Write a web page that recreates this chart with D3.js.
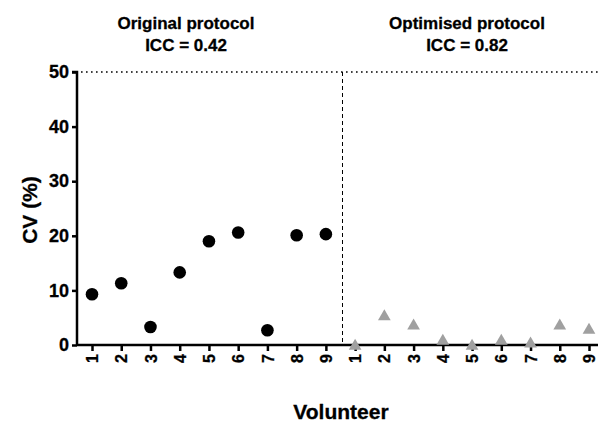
<!DOCTYPE html>
<html><head><meta charset="utf-8">
<script src="https://cdn.jsdelivr.net/npm/d3@7"></script>
<style>body{margin:0;background:#fff}svg{display:block}text{font-family:"Liberation Sans",Arial,sans-serif;font-weight:bold}</style>
</head><body>
<script>
const volunteers = ["1","2","3","4","5","6","7","8","9"];
const originalCV = [9.3, 11.3, 3.3, 13.3, 19.0, 20.6, 2.7, 20.1, 20.3];
const optimisedCV = [0.0, 5.4, 3.7, 0.9, 0.0, 0.9, 0.4, 3.7, 2.9];
const yTicks = [0, 10, 20, 30, 40, 50];
const groupTitles = ["Original protocol", "Optimised protocol"];
const groupICC = ["ICC = 0.42", "ICC = 0.82"];

const W = 598, H = 425;
const svg = d3.select("body").append("svg").attr("width", W).attr("height", H);

const positions = d3.range(18);
const x = d3.scalePoint().domain(positions).range([92, 589]);
const y = d3.scaleLinear().domain([0, 50]).range([345, 72]);
const axisX0 = 77;

// reference dotted line at 50
svg.append("line").attr("x1", axisX0 + 4).attr("x2", W).attr("y1", y(50)).attr("y2", y(50))
  .attr("stroke", "#000").attr("stroke-width", 1.6).attr("stroke-dasharray", "1.6,3.4");

// separator dashed line
const sepX = (x(8) + x(9)) / 2 + 2;
svg.append("line").attr("x1", sepX).attr("x2", sepX).attr("y1", y(50)).attr("y2", y(0))
  .attr("stroke", "#000").attr("stroke-width", 1).attr("stroke-dasharray", "4,3");

// y axis
const yAxis = d3.axisLeft(y).tickValues(yTicks).tickSize(5).tickPadding(3);
const gy = svg.append("g").attr("transform", `translate(${axisX0},0)`).call(yAxis);
gy.select(".domain").attr("stroke-width", 2.5).attr("d", `M-5,${y(50)}H0V${y(0)}`);
gy.selectAll(".tick line").attr("stroke-width", 2.5);
gy.selectAll(".tick text").attr("font-size", 18).attr("font-weight", "bold")
  .attr("font-family", "Liberation Sans, Arial, sans-serif").attr("fill", "#000")
  .attr("stroke", "#000").attr("stroke-width", 0.3);

// x axis
const labels = volunteers.concat(volunteers);
const xAxis = d3.axisBottom(x).tickValues(positions).tickFormat(i => labels[i]).tickSize(6).tickPadding(5);
const gx = svg.append("g").attr("transform", `translate(0,${y(0)})`).call(xAxis);
gx.select(".domain").attr("stroke-width", 2.5).attr("d", `M${axisX0},0H${W}`);
gx.selectAll(".tick line").attr("stroke-width", 2.5);
gx.selectAll(".tick text").attr("font-size", 16).attr("font-weight", "bold")
  .attr("font-family", "Liberation Sans, Arial, sans-serif").attr("fill", "#000")
  .attr("stroke", "#000").attr("stroke-width", 0.3)
  .attr("text-anchor", "end").attr("dy", "0.35em").attr("y", 0)
  .attr("transform", "translate(0,9) rotate(-90)");

// points: original (black circles)
svg.append("g").selectAll("circle").data(originalCV).join("circle")
  .attr("cx", (d, i) => x(i)).attr("cy", d => y(d)).attr("r", 6.3).attr("fill", "#000");

// optimised (grey triangles)
const tri = d3.symbol().type(d3.symbolTriangle).size(70);
svg.append("g").selectAll("path").data(optimisedCV).join("path")
  .attr("d", tri).attr("transform", (d, i) => `translate(${x(i + 9)},${y(d) + 1})`).attr("fill", "#a0a0a0");

// titles
const centers = [186, 467];
groupTitles.forEach((t, k) => {
  svg.append("text").attr("x", centers[k]).attr("y", 29).attr("text-anchor", "middle").attr("font-size", 17)
    .attr("stroke", "#000").attr("stroke-width", 0.3).text(t);
  svg.append("text").attr("x", centers[k]).attr("y", 51).attr("text-anchor", "middle").attr("font-size", 17)
    .attr("stroke", "#000").attr("stroke-width", 0.3).text(groupICC[k]);
});

// axis titles
svg.append("text").attr("transform", `translate(37,210) rotate(-90)`).attr("text-anchor", "middle").attr("font-size", 21)
  .attr("stroke", "#000").attr("stroke-width", 0.3).text("CV (%)");
svg.append("text").attr("x", 341).attr("y", 419).attr("text-anchor", "middle").attr("font-size", 21)
  .attr("stroke", "#000").attr("stroke-width", 0.3).text("Volunteer");
</script>
</body></html>
